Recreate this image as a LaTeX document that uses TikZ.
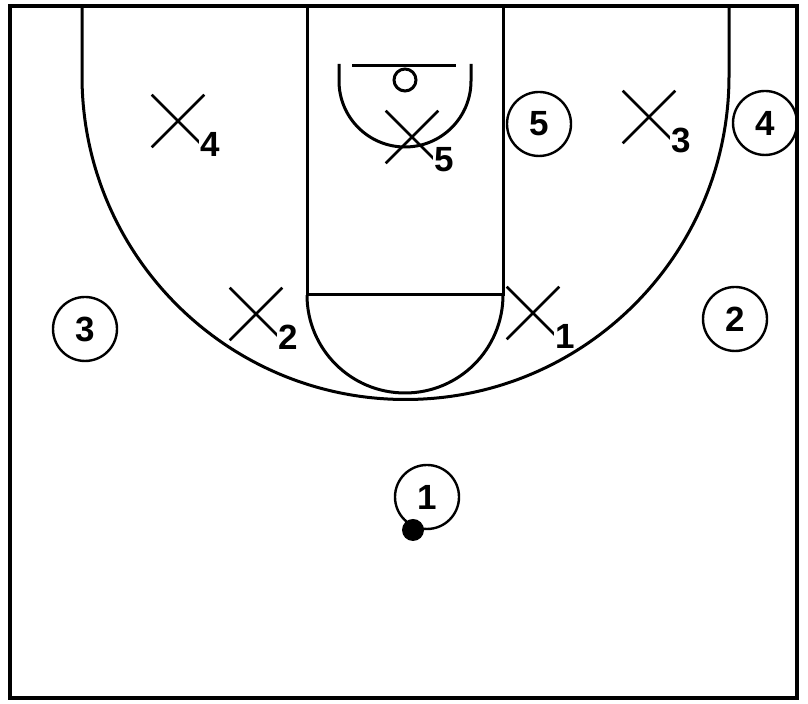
\documentclass[tikz,border=0pt]{standalone}
\usepackage{fontspec}
\setmainfont{Liberation Sans}
\usetikzlibrary{shapes.misc}
\tikzset{
  num/.style={font=\bfseries\fontsize{17.5}{18}\selectfont,inner sep=0pt},
  court/.style={line width=1.5pt},
  offense/.style={circle,draw,line width=1.2pt,inner sep=0pt,minimum size=32pt,num},
  defense/.style={cross out,draw,line width=1.3pt,inner sep=0pt,minimum size=25pt,
    label={[num,fill=white,inner sep=0.5pt,xshift=16pt,yshift=-11.5pt]center:#1}},
}
\begin{document}
\begin{tikzpicture}[x=0.5pt,y=0.5pt]
      \useasboundingbox (0,0) rectangle (808,704);%

      % court
      \draw[line width=2pt] (10,6) rectangle (797,698);%
      \draw[court] (82,698) -- (82,628) arc[start angle=180,end angle=360,radius=323.5] -- (729,698);%
      \draw[court] (307,698) -- (307,409) -- (503,409) -- (503,698);%
      \draw[court] (307,409) arc[start angle=180,end angle=360,radius=98];%
      \draw[court] (352,638) -- (456,638);%
      \draw[court] (405,624) circle[radius=11];%
      \draw[court] (339,640) -- (339,623) arc[start angle=180,end angle=360,radius=66] -- (471,640);%

      % offense
      \node[offense] (O1) at (427,207) {1};%
      \node[offense] (O2) at (735,385) {2};%
      \node[offense] (O3) at (85,375) {3};%
      \node[offense] (O4) at (765,581) {4};%
      \node[offense] (O5) at (539,580) {5};%
      \node[circle,fill,inner sep=0pt,minimum size=11pt] (BL) at (413,174) {};%

      % defense
      \node[defense=1] (X1) at (533,391) {};%
      \node[defense=2] (X2) at (256,390) {};%
      \node[defense=3] (X3) at (649,587) {};%
      \node[defense=4] (X4) at (178,583) {};%
      \node[defense=5] (X5) at (412,567) {};%
\end{tikzpicture}
\end{document}
